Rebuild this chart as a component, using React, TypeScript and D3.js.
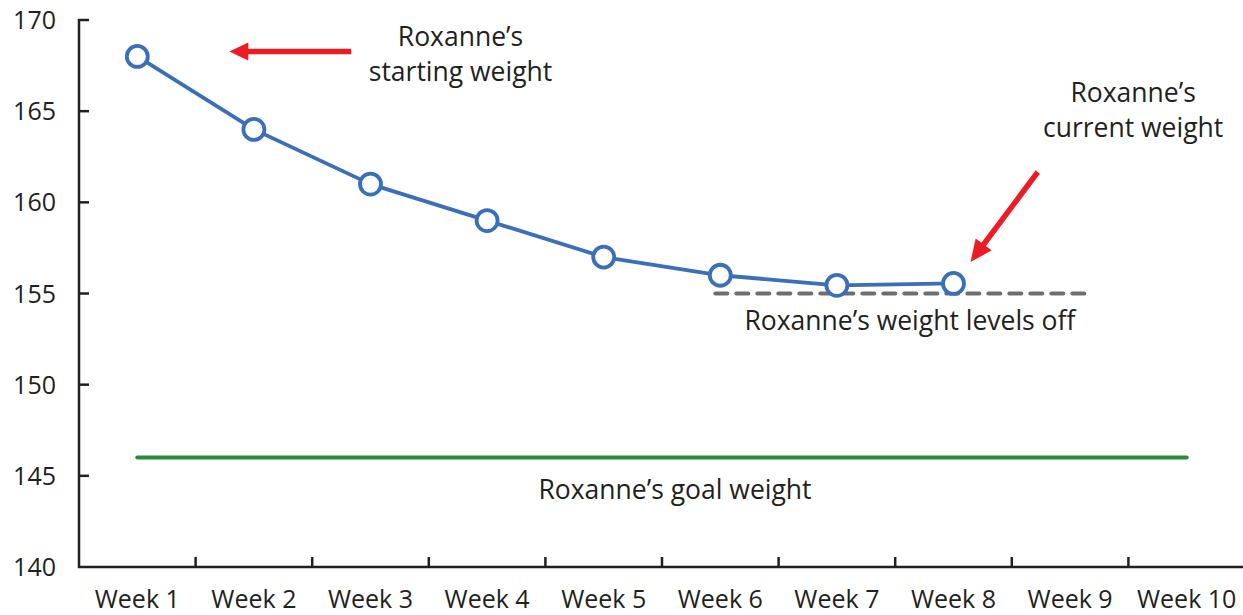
import React from 'react';
import * as d3 from 'd3';

const weeks = ['Week 1', 'Week 2', 'Week 3', 'Week 4', 'Week 5', 'Week 6', 'Week 7', 'Week 8', 'Week 9', 'Week 10'];
const weightWeeks = ['Week 1', 'Week 2', 'Week 3', 'Week 4', 'Week 5', 'Week 6', 'Week 7', 'Week 8'];
const weights = [168, 164, 161, 159, 157, 156, 155.45, 155.55];
const yTicks = [140, 145, 150, 155, 160, 165, 170];
const goalWeight = 146;
const plateauWeight = 155;

const WIDTH = 1243,
    HEIGHT = 615;

const MARGIN = {
    LEFT: 79,
    RIGHT: -2,
    TOP: 20,
    BOTTOM: 48
};

const FONT = '"Open Sans", "Noto Sans", sans-serif';
const TEXT_COLOR = '#231f20';
const BLUE = '#3b6fb8';
const GREEN = '#2a8a3e';
const RED = '#ed1c24';
const GRAY = '#6d6e70';

const App = () => {
    const xScale = d3.scaleBand<string>().domain(weeks).range([MARGIN.LEFT, WIDTH - MARGIN.RIGHT]).padding(0);
    const yScale = d3.scaleLinear().domain([140, 170]).range([HEIGHT - MARGIN.BOTTOM, MARGIN.TOP]);

    const cx = (w: string) => (xScale(w) as number) + xScale.bandwidth() / 2;

    const line = d3.line<number>()
        .x((_, i) => cx(weightWeeks[i]))
        .y(d => yScale(d));

    const y0 = yScale(140);

    // plateau dashed line starts a bit before week 6 and ends before week 9 center
    const dashX1 = cx('Week 6') - 5,
        dashX2 = cx('Week 9') + 18;

    const arrow = (x1: number, y1: number, x2: number, y2: number, headLen: number, headW: number) => {
        const ang = Math.atan2(y2 - y1, x2 - x1);
        const bx = x2 - headLen * Math.cos(ang),
            by = y2 - headLen * Math.sin(ang);
        const px = -Math.sin(ang) * headW,
            py = Math.cos(ang) * headW;
        return (
            <g>
                <line x1={x1} y1={y1} x2={bx + Math.cos(ang) * 2} y2={by + Math.sin(ang) * 2} stroke={RED} strokeWidth={5.5} />
                <path d={`M${x2},${y2}L${bx + px},${by + py}L${bx - px},${by - py}Z`} fill={RED} />
            </g>
        );
    };

    return (
        <div style={{ position: 'absolute', left: 0, top: 0 }}>
            <svg width={WIDTH} height={HEIGHT} style={{ display: 'block', fontFamily: FONT }}>
                <rect width={WIDTH} height={HEIGHT} fill='#ffffff' />

                {/* goal weight line */}
                <line x1={cx('Week 1')} x2={cx('Week 10')} y1={yScale(goalWeight)} y2={yScale(goalWeight)}
                    stroke={GREEN} strokeWidth={4} strokeLinecap='round' />

                {/* plateau */}
                <line x1={dashX1} x2={dashX2} y1={yScale(plateauWeight)} y2={yScale(plateauWeight)}
                    stroke={GRAY} strokeWidth={4} strokeDasharray='12,9' strokeLinecap='round' />

                {/* axes */}
                <g stroke={TEXT_COLOR} strokeWidth={2.5} fill='none'>
                    <path d={`M${MARGIN.LEFT + 10},${yScale(170)}H${MARGIN.LEFT}V${y0}H${WIDTH}`} />
                    {yTicks.slice(1, -1).map(t => (
                        <line key={`yt-${t}`} x1={MARGIN.LEFT} x2={MARGIN.LEFT + 10} y1={yScale(t)} y2={yScale(t)} />
                    ))}
                    {weeks.slice(1).map(w => (
                        <line key={`xt-${w}`} x1={xScale(w)} x2={xScale(w)} y1={y0} y2={y0 - 10} />
                    ))}
                </g>

                <g fontSize={25} fill={TEXT_COLOR}>
                    {yTicks.map(t => (
                        <text key={`yl-${t}`} x={MARGIN.LEFT - 23} y={yScale(t)} dy='0.36em' textAnchor='end'>{t}</text>
                    ))}
                    {weeks.map(w => (
                        <text key={`xl-${w}`} x={cx(w)} y={y0 + 41} textAnchor='middle'>{w}</text>
                    ))}
                </g>

                {/* weight series */}
                <path d={line(weights) || ''} fill='none' stroke={BLUE} strokeWidth={3.8} strokeLinejoin='round' />
                {weights.map((v, i) => (
                    <circle key={`pt-${i}`} cx={cx(weightWeeks[i])} cy={yScale(v)} r={10.5}
                        fill='#ffffff' stroke={BLUE} strokeWidth={3.8} />
                ))}

                {/* annotations */}
                <g fontSize={26.5} fill={TEXT_COLOR} textAnchor='middle'>
                    <text x={cx('Week 3') + 90} y={46}>Roxanne’s</text>
                    <text x={cx('Week 3') + 90} y={81}>starting weight</text>

                    <text x={cx('Week 9') + 63} y={102}>Roxanne’s</text>
                    <text x={cx('Week 9') + 63} y={137}>current weight</text>

                    <text x={cx('Week 7') + 73} y={yScale(plateauWeight) + 36}>Roxanne’s weight levels off</text>

                    <text x={xScale('Week 6') as number + 13} y={yScale(goalWeight) + 41}>Roxanne’s goal weight</text>
                </g>

                {arrow(xScale('Week 3') as number + 39, yScale(168) - 5, cx('Week 1') + 92, yScale(168) - 5, 19, 9)}
                {arrow(xScale('Week 9') as number + 26, 172, cx('Week 8') + 17, 262, 22, 10)}
            </svg>
        </div>
    );
};

export default App;
